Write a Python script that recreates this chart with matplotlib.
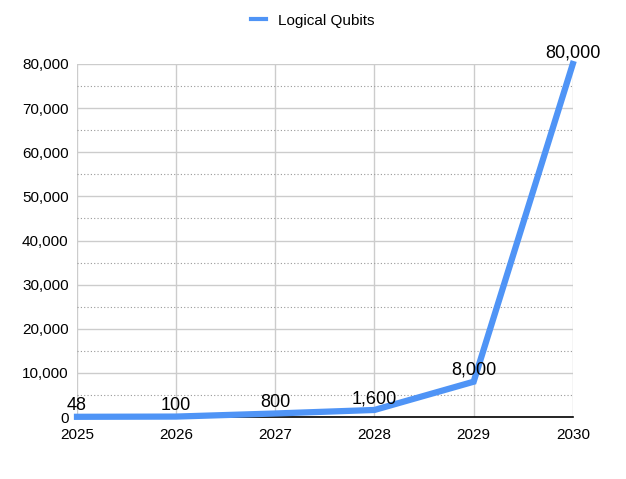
import matplotlib
matplotlib.use("Agg")
import matplotlib.pyplot as plt
from matplotlib.lines import Line2D
from matplotlib.ticker import MultipleLocator, FuncFormatter

plt.rcParams["font.family"] = ["Liberation Sans", "DejaVu Sans"]

years = [2025, 2026, 2027, 2028, 2029, 2030]
qubits = [48, 100, 800, 1600, 8000, 80000]
point_labels = ["48", "100", "800", "1,600", "8,000", "80,000"]

fig = plt.figure(figsize=(6.26, 4.79), dpi=100)
ax = fig.add_axes([0.123, 0.1294, 0.792, 0.737])

ax.plot(years, qubits, color="#4f94f6", linewidth=4.5,
        solid_joinstyle="miter", zorder=3, clip_on=False)

for x, y, t in zip(years, qubits, point_labels):
    ax.annotate(t, (x, y), xytext=(0, 2), textcoords="offset points",
                ha="center", va="bottom", fontsize=13, zorder=4)

ax.set_xlim(2025, 2030)
ax.set_ylim(0, 80000)
ax.set_xticks(years)
ax.yaxis.set_major_locator(MultipleLocator(10000))
ax.yaxis.set_minor_locator(MultipleLocator(5000))
ax.yaxis.set_major_formatter(FuncFormatter(lambda v, p: f"{int(v):,}"))

ax.grid(True, which="major", color="#cccccc", linewidth=1, zorder=0)
ax.grid(True, which="minor", axis="y", color="#999999", linestyle=(0, (1, 2)),
        linewidth=0.8, zorder=0)

for s in ["top", "right", "left"]:
    ax.spines[s].set_visible(False)
ax.spines["bottom"].set_color("black")
ax.spines["bottom"].set_linewidth(1.2)
ax.tick_params(which="both", length=0, labelsize=11, pad=6)
ax.tick_params(axis="x", pad=8)

handle = Line2D([], [], color="#4f94f6", linewidth=3)
fig.legend(handles=[handle], labels=["Logical Qubits"], loc="center",
           bbox_to_anchor=(0.5, 0.957), frameon=False, fontsize=11,
           handlelength=1.0, handletextpad=0.8)

fig.savefig("out.png", dpi=100)
